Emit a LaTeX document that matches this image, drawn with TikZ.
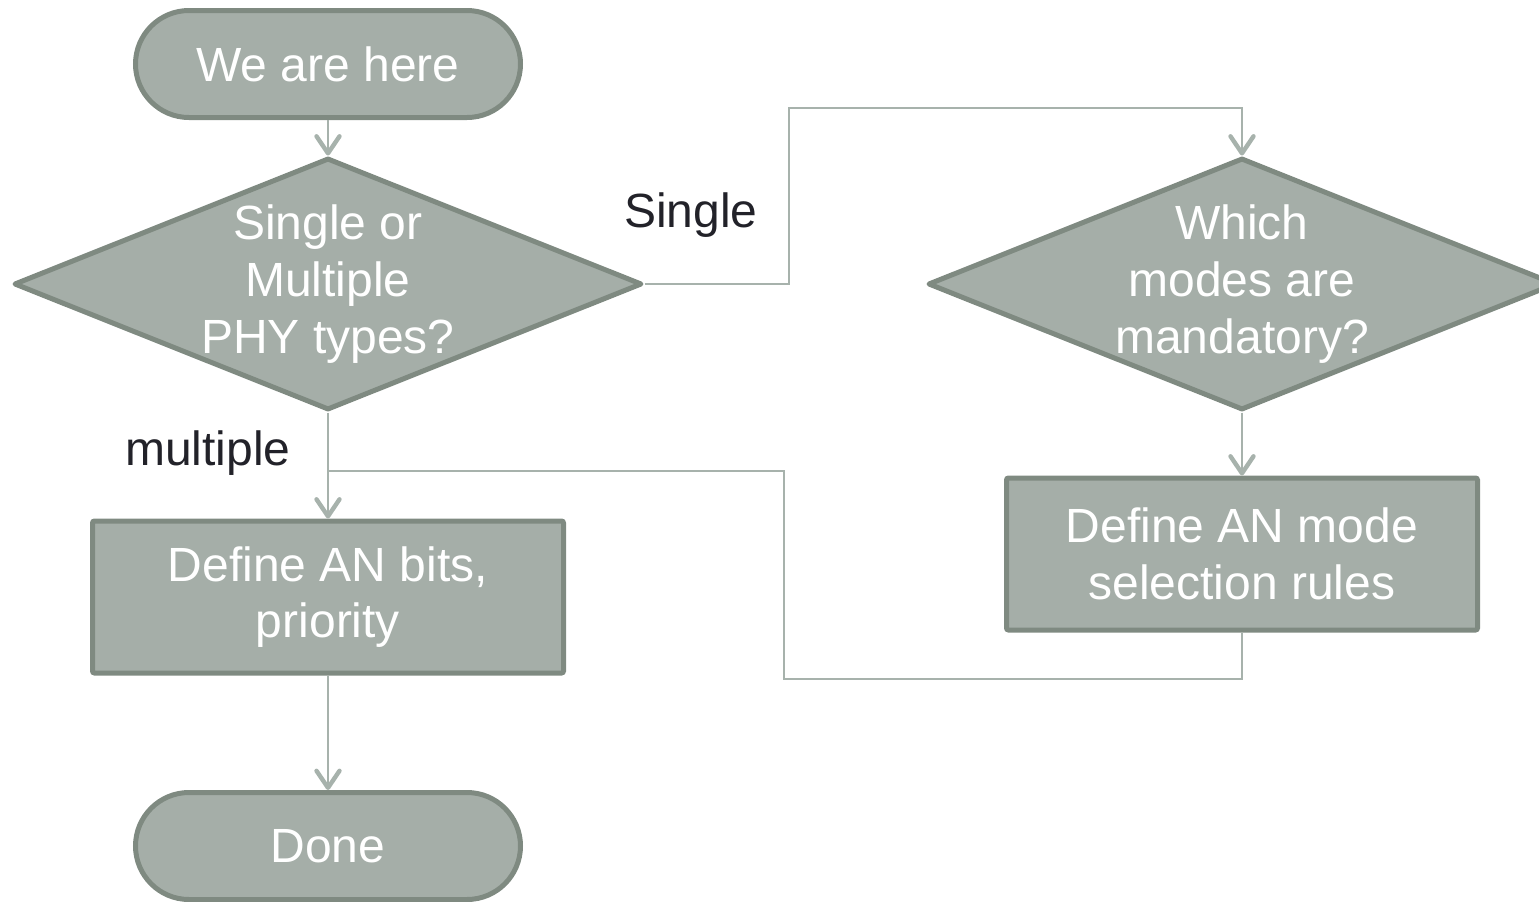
\documentclass[tikz,border=0pt]{standalone}
\usepackage{fontspec}
\setmainfont{Liberation Sans}
\usetikzlibrary{shapes.geometric,arrows.meta}
\definecolor{boxfill}{HTML}{A5AEA8}
\definecolor{boxline}{HTML}{7F8A81}
\definecolor{wire}{HTML}{A7B2AC}
\definecolor{ink}{HTML}{222229}
\tikzset{
  term/.style={draw=boxline,fill=boxfill,line width=2.5pt,rounded corners=26.75pt,minimum width=192.5pt,minimum height=53.5pt,text=white,align=center},
  proc/.style={draw=boxline,fill=boxfill,line width=2.5pt,rounded corners=1pt,minimum width=235.5pt,minimum height=76pt,text=white,align=center},
  decide/.style={diamond,shape aspect=2.5,draw=boxline,fill=boxfill,line width=2.5pt,line join=round,inner sep=-12pt,minimum width=314pt,minimum height=126pt,text=white,align=center},
  wirearrow/.style={draw=wire,line width=1pt,-{Straight Barb[length=8.5pt,width=11.5pt,line width=2.2pt,round]}},
  wireline/.style={draw=wire,line width=1pt},
  lbl/.style={text=ink}
}
\begin{document}
\begin{tikzpicture}[x=0.5pt,y=-0.5pt,font=\fontsize{24}{28.3}\selectfont]
\useasboundingbox (0,0) rectangle (1539,901);
\node[term] (start) at (328,64) {We are here};
\node[decide] (d1) at (328,284) {Single or\\Multiple\\PHY types?};
\node[decide] (d2) at (1242,284) {Which\\modes are\\mandatory?};
\node[proc] (b1) at (328,597) {Define AN bits,\\priority};
\node[proc] (b2) at (1242,554) {Define AN mode\\selection rules};
\node[term] (done) at (328,846) {Done};
\node[lbl] (single) at (691,215) {Single};
\node[lbl] (multi) at (208,453) {multiple};
\coordinate (sgl) at (789,108);
\coordinate (lp) at (784,679);
\coordinate (jn) at (328,471);
\draw[wirearrow] (start) -- (d1);
\draw[wirearrow] (d1.east) -| (sgl) -| (d2.north);
\draw[wirearrow] (d1) -- (b1);
\draw[wirearrow] (d2) -- (b2);
\draw[wireline] (b2.south) |- (lp) |- (jn);
\draw[wirearrow] (b1) -- (done);
\end{tikzpicture}
\end{document}
